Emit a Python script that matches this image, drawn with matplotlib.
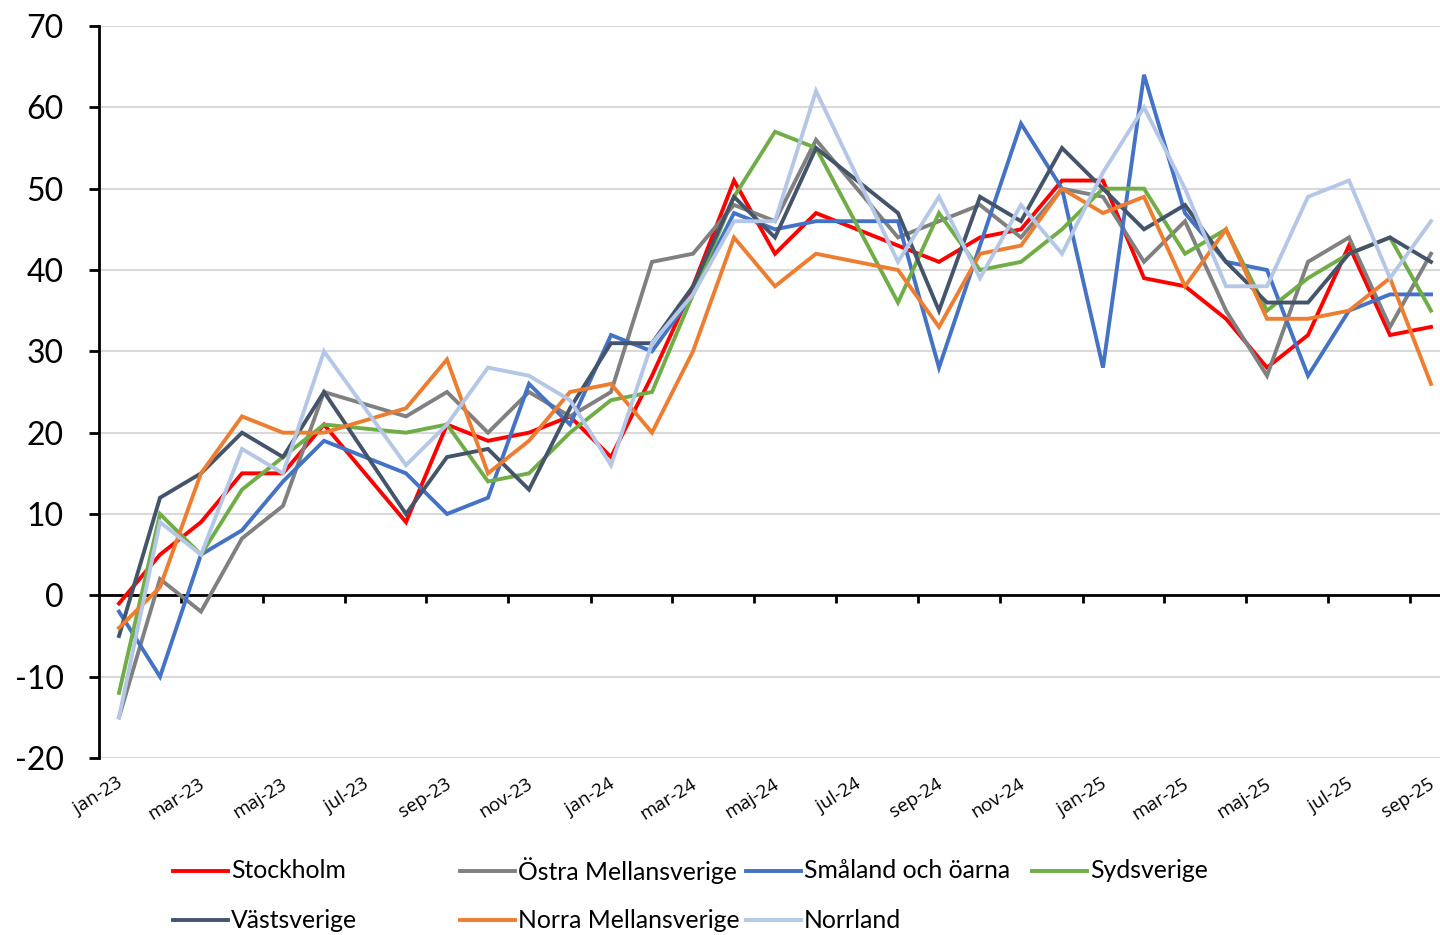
import matplotlib
matplotlib.use('Agg')

import matplotlib.pyplot as plt
import matplotlib.transforms as mtransforms
from matplotlib.lines import Line2D
import numpy as np

plt.rcParams['font.family'] = ['Lato', 'DejaVu Sans']
plt.rcParams['axes.unicode_minus'] = False

# ==========================================
# Data (månadsvärden jan-23 .. sep-25, juli saknas 2023 och 2024)
# ==========================================
months = ['jan-23', 'feb-23', 'mar-23', 'apr-23', 'maj-23', 'jun-23', 'jul-23', 'aug-23',
          'sep-23', 'okt-23', 'nov-23', 'dec-23', 'jan-24', 'feb-24', 'mar-24', 'apr-24',
          'maj-24', 'jun-24', 'jul-24', 'aug-24', 'sep-24', 'okt-24', 'nov-24', 'dec-24',
          'jan-25', 'feb-25', 'mar-25', 'apr-25', 'maj-25', 'jun-25', 'jul-25', 'aug-25',
          'sep-25']

nan = np.nan
stockholm = [-1, 5, 9, 15, 15, 21, nan, 9, 21, 19, 20, 22, 17, 27, 38, 51, 42, 47, nan, 43,
             41, 44, 45, 51, 51, 39, 38, 34, 28, 32, 43, 32, 33]
ostra = [-15, 2, -2, 7, 11, 25, nan, 22, 25, 20, 25, 22, 25, 41, 42, 48, 46, 56, nan, 44,
         46, 48, 44, 50, 49, 41, 46, 35, 27, 41, 44, 33, 42]
smaland = [-2, -10, 5, 8, 14, 19, nan, 15, 10, 12, 26, 21, 32, 30, 37, 47, 45, 46, nan, 46,
           28, 43, 58, 50, 28, 64, 47, 41, 40, 27, 35, 37, 37]
sydsverige = [-12, 10, 5, 13, 17, 21, nan, 20, 21, 14, 15, 20, 24, 25, 37, 49, 57, 55, nan, 36,
              47, 40, 41, 45, 50, 50, 42, 45, 35, 39, 42, 44, 35]
vastsverige = [-5, 12, 15, 20, 17, 25, nan, 10, 17, 18, 13, 23, 31, 31, 38, 49, 44, 55, nan, 47,
               35, 49, 46, 55, 50, 45, 48, 41, 36, 36, 42, 44, 41]
norra = [-4, 1, 15, 22, 20, 20, nan, 23, 29, 15, 19, 25, 26, 20, 30, 44, 38, 42, nan, 40,
         33, 42, 43, 50, 47, 49, 38, 45, 34, 34, 35, 39, 26]
norrland = [-15, 9, 5, 18, 15, 30, nan, 16, 21, 28, 27, 24, 16, 31, 37, 46, 46, 62, nan, 41,
            49, 39, 48, 42, 52, 60, 50, 38, 38, 49, 51, 39, 46]

series_names = ['Stockholm', 'Östra Mellansverige', 'Småland och öarna', 'Sydsverige',
                'Västsverige', 'Norra Mellansverige', 'Norrland']
series_values = [stockholm, ostra, smaland, sydsverige, vastsverige, norra, norrland]
colors = ['#FF0000', '#808080', '#4472C4', '#70AD47', '#44546A', '#ED7D31', '#B4C7E7']

y_ticks = [-20, -10, 0, 10, 20, 30, 40, 50, 60, 70]

# ==========================================
# Figur
# ==========================================
W, H = 1440, 935
fig = plt.figure(figsize=(W / 100, H / 100), dpi=100)

x0_px, x_step = 98.5, 41.0
left = x0_px / W
right_px = x0_px + x_step * len(months)
ax = fig.add_axes([left, (H - 758) / H, (right_px - x0_px) / W, (758 - 26) / H])

x = np.arange(len(months))
for name, vals, col in zip(series_names, series_values, colors):
    v = np.array(vals, dtype=float)
    m = ~np.isnan(v)  # tomma månader kopplas ihop med linje
    ax.plot(x[m], v[m], color=col, lw=2.8, solid_joinstyle='miter', label=name, zorder=3)

ax.set_xlim(-0.5, len(months) - 0.5)
ax.set_ylim(-20, 70)
ax.set_yticks(y_ticks)
ax.set_yticklabels([str(t) for t in y_ticks], fontsize=23)
ax.yaxis.grid(True, color='#d9d9d9', lw=1.5)
ax.set_axisbelow(True)

for s in ['top', 'right', 'bottom']:
    ax.spines[s].set_visible(False)
ax.spines['left'].set_linewidth(2)
ax.spines['left'].set_color('black')
ax.tick_params(axis='y', direction='out', length=7, width=2, pad=18, colors='black')

# kategorietiketter varannan månad
ax.set_xticks(x[::2])
ax.set_xticklabels(months[::2], rotation=32, ha='right', va='top', fontsize=13.5,
                   family=['Open Sans', 'DejaVu Sans'])
ax.tick_params(axis='x', length=0, pad=12)
shift = mtransforms.ScaledTranslation(7 / 100, 0, fig.dpi_scale_trans)
for lbl in ax.get_xticklabels():
    lbl.set_transform(lbl.get_transform() + shift)

# x-axel vid noll
zero_ax = ax.secondary_xaxis(20 / 90)
zero_ax.set_xticks(np.arange(1.5, len(months) - 0.5, 2))
zero_ax.set_xticklabels([])
zero_ax.spines['bottom'].set_linewidth(2)
zero_ax.spines['bottom'].set_color('black')
zero_ax.tick_params(axis='x', direction='out', length=6, width=2, colors='black')
zero_ax.set_zorder(2)

# legend i fyra lika breda kolumner
handles, labels = ax.get_legend_handles_labels()
col_px = [173, 460, 746, 1032]
row_px = [871, 920]
for i, (h, lab) in enumerate(zip(handles, labels)):
    r, c = divmod(i, 4)
    xs = col_px[c]
    yy = (H - row_px[r]) / H
    fig.add_artist(Line2D([xs / W, (xs + 55) / W], [yy, yy], color=h.get_color(), lw=2.8,
                          transform=fig.transFigure))
    fig.text((xs + 58) / W, yy, lab, fontsize=17.8, va='center', ha='left')

fig.savefig('out.png', dpi=100)
